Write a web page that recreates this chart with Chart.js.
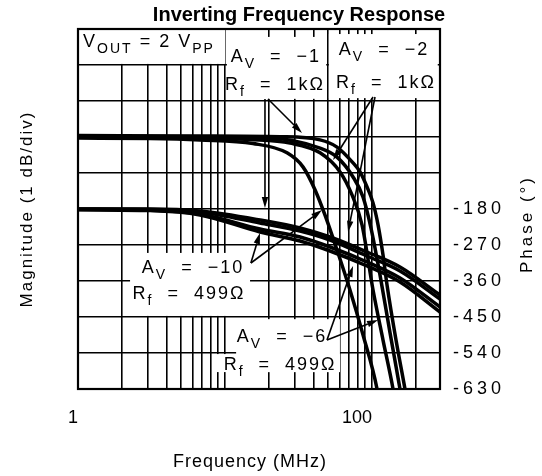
<!DOCTYPE html>
<html><head><meta charset="utf-8">
<script src="https://cdn.jsdelivr.net/npm/chart.js@4"></script>
<style>html,body{margin:0;padding:0;background:#fff}canvas{display:block}</style>
</head><body>
<canvas id="c" width="542" height="476"></canvas>
<script>
// ---------- data ----------
const xGridTicks = [1,2,3,4,5,6,7,8,9,10,20,30,40,50,60,70,80,90,100,200];
const xTickValues = [1, 100];
const xTickLabels = ['1', '100'];
const phaseTickValues = [-180,-270,-360,-450,-540,-630];
const phaseTickLabels = ['-180','-270','-360','-450','-540','-630'];

// magnitude curves (dB, normalized)
const mag1Freq = [1, 6.76, 23.7, 44.3, 57.8, 74.3, 82.9, 92.5, 101.6, 109.9, 118.8, 126.5, 145.6, 167.6, 187];
const mag1Db   = [0.04, 0.03, 0.01, -0.08, -0.28, -0.72, -0.97, -1.39, -1.83, -2.44, -3.28, -4.11, -5.64, -7.0, -8.14];
const mag2Freq = [1, 6.76, 20.2, 44.3, 57.8, 74.3, 86.9, 98.4, 113.3, 132.6, 155, 170.3];
const mag2Db   = [0.02, 0.0, -0.03, -0.31, -0.56, -1.11, -1.67, -2.53, -3.83, -5.44, -7.0, -8.0];
const mag3Freq = [1, 6.76, 14.8, 27.7, 44.3, 60.6, 73.1, 85.5, 101.6, 118.8, 139, 150.3];
const mag3Db   = [0.0, -0.02, -0.07, -0.17, -0.44, -0.97, -1.61, -2.44, -4.25, -5.64, -7.0, -7.86];
const mag4Freq = [1, 3.09, 6.76, 15.5, 26.4, 33.9, 41, 47.9, 57.8, 70.8, 86.9, 108.2, 117];
const mag4Db   = [-0.03, -0.04, -0.08, -0.18, -0.44, -0.83, -1.47, -2.17, -3.14, -4.25, -5.5, -7.0, -7.86];

// phase curves (degrees)
const phaseFreq = [1, 3.09, 6.76, 17.3, 32.4, 51.8, 92.5, 155, 290];
const phase1 = [-180, -180, -185, -207.5, -227.5, -250, -287.5, -325, -395];
const phase2 = [-180, -181, -187.5, -215, -235, -257.5, -297.5, -335, -405];
const phase3 = [-181, -183, -192.5, -230, -250, -275, -312.5, -352.5, -425];
const phase4 = [-182, -184, -195, -237.5, -260, -285, -322.5, -362.5, -437.5];

// annotations (frequency MHz, magnitude-axis dB)
const noteTexts = ['V_{OUT} = 2 V_{PP}', 'A_{V}  =  −1', 'R_{f}  =  1kΩ', 'A_{V}  =  −2', 'R_{f}  =  1kΩ',
                   'A_{V}  =  −10', 'R_{f}  =  499Ω', 'A_{V}  =  −6', 'R_{f}  =  499Ω'];
const noteFreq = [3.04, 22.2, 21.9, 120.7, 124.5, 6.06, 5.69, 24.4, 23.7];
const noteDb   = [2.667, 2.25, 1.472, 2.444, 1.528, -3.611, -4.333, -5.528, -6.306];

// white label boxes
const boxF0 = [1, 10.3, 50.9, 2.26, 11.9, 8.7];
const boxF1 = [10, 48.8, 280, 14.8, 60.5, 60.5];
const boxD0 = [3, 2.78, 2.86, -3.22, -5.06, -6.03];
const boxD1 = [2.03, 1.06, 1.08, -4.97, -6.53, -6.53];

// arrows
const arrFromF = [19.6, 18.7, 101.6, 104.8, 15.0, 15.0, 49.4, 49.4];
const arrFromD = [1.056, 1.056, 1.111, 1.111, -3.5, -3.5, -5.639, -5.639];
const arrToF   = [33.4, 18.7, 54.3, 68.7, 17.3, 45.7, 109.9, 74.3];
const arrToD   = [0.111, -1.972, -0.639, -2.639, -2.667, -2.028, -5.083, -3.583];

// ---------- chart ----------
const FONT = '"Liberation Sans", Arial, sans-serif';
const pts = (xs, ys) => xs.map((x, i) => ({x, y: ys[i]}));
const lineDs = (xs, ys, axis) => ({
  data: pts(xs, ys), yAxisID: axis, borderColor: '#000', borderWidth: 3.5,
  pointRadius: 0, fill: false, cubicInterpolationMode: 'monotone'
});

function drawRich(ctx, text, cx, cy, size, spacing) {
  const segs = [];
  const re = /_\{([^}]*)\}/g; let last = 0, m;
  while ((m = re.exec(text))) {
    if (m.index > last) segs.push({t: text.slice(last, m.index), sub: false});
    segs.push({t: m[1], sub: true}); last = re.lastIndex;
  }
  if (last < text.length) segs.push({t: text.slice(last), sub: false});
  ctx.save();
  ctx.letterSpacing = spacing + 'px';
  let w = 0;
  segs.forEach(s => { ctx.font = (s.sub ? size * 0.78 : size) + 'px ' + FONT; s.w = ctx.measureText(s.t).width; w += s.w; });
  let x = cx - w / 2;
  const base = cy + size * 0.36;
  ctx.fillStyle = '#000'; ctx.textBaseline = 'alphabetic'; ctx.textAlign = 'left';
  segs.forEach(s => {
    ctx.font = (s.sub ? size * 0.78 : size) + 'px ' + FONT;
    ctx.fillText(s.t, x, s.sub ? base + size * 0.3 : base);
    x += s.w;
  });
  ctx.restore();
}

const decor = {
  id: 'decor',
  afterLayout(chart) {
    const s = chart.scales.y2;
    if (!s._patched) {
      const orig = s.drawLabels;
      s.drawLabels = function (a) { const c = this.ctx; c.save(); c.letterSpacing = '4px'; orig.call(this, a); c.restore(); };
      s._patched = true;
    }
  },
  beforeDatasetsDraw(chart) {
    const {ctx, scales: {x, y}} = chart;
    ctx.save(); ctx.fillStyle = '#fff';
    for (let i = 0; i < boxF0.length; i++) {
      const x0 = x.getPixelForValue(boxF0[i]), x1 = x.getPixelForValue(boxF1[i]);
      const y0 = y.getPixelForValue(boxD0[i]), y1 = y.getPixelForValue(boxD1[i]);
      ctx.fillRect(x0, y0, x1 - x0, y1 - y0);
    }
    ctx.restore();
  },
  afterDatasetsDraw(chart) {
    const {ctx, chartArea: a, scales: {x, y}} = chart;
    ctx.save();
    ctx.strokeStyle = '#000'; ctx.lineWidth = 2.2;
    ctx.strokeRect(a.left, a.top, a.right - a.left, a.bottom - a.top);
    // arrows
    ctx.lineWidth = 1.6; ctx.fillStyle = '#000';
    for (let i = 0; i < arrFromF.length; i++) {
      const x0 = x.getPixelForValue(arrFromF[i]), y0 = y.getPixelForValue(arrFromD[i]);
      const x1 = x.getPixelForValue(arrToF[i]), y1 = y.getPixelForValue(arrToD[i]);
      const ang = Math.atan2(y1 - y0, x1 - x0), L = 11, H = 3.2;
      const bx = x1 - L * Math.cos(ang), by = y1 - L * Math.sin(ang);
      ctx.beginPath(); ctx.moveTo(x0, y0); ctx.lineTo(bx, by); ctx.stroke();
      ctx.beginPath(); ctx.moveTo(x1, y1);
      ctx.lineTo(bx + H * Math.sin(ang), by - H * Math.cos(ang));
      ctx.lineTo(bx - H * Math.sin(ang), by + H * Math.cos(ang));
      ctx.closePath(); ctx.fill();
    }
    for (let i = 0; i < noteTexts.length; i++) {
      drawRich(ctx, noteTexts[i], x.getPixelForValue(noteFreq[i]), y.getPixelForValue(noteDb[i]), 18, 2);
    }
    ctx.restore();
  },
  afterDraw(chart) {
    const {ctx, chartArea: a} = chart;
    ctx.save();
    ctx.fillStyle = '#000';
    ctx.font = 'bold 20px ' + FONT; ctx.textAlign = 'center'; ctx.textBaseline = 'alphabetic';
    ctx.fillText('Inverting Frequency Response', a.right - 141, a.top - 8);
    ctx.letterSpacing = '1px';
    ctx.font = '18px ' + FONT; ctx.textBaseline = 'middle';
    ctx.fillText('Frequency (MHz)', (a.left + a.right) / 2 - 9, a.bottom + 73);
    ctx.letterSpacing = '2px';
    ctx.font = '17px ' + FONT;
    ctx.save(); ctx.translate(a.left - 51, (a.top + a.bottom) / 2); ctx.rotate(-Math.PI / 2);
    ctx.fillText('Magnitude (1 dB/div)', 0, 0); ctx.restore();
    ctx.letterSpacing = '3px';
    ctx.save(); ctx.translate(a.right + 87, (a.top + a.bottom) / 2 + 15); ctx.rotate(-Math.PI / 2);
    ctx.fillText('Phase (°)', 0, 0); ctx.restore();
    ctx.restore();
  }
};

const gridOpts = {color: '#000', lineWidth: 1.6, drawTicks: false};

new Chart(document.getElementById('c'), {
  type: 'line',
  data: {
    datasets: [
      lineDs(mag1Freq, mag1Db, 'y'), lineDs(mag2Freq, mag2Db, 'y'),
      lineDs(mag3Freq, mag3Db, 'y'), lineDs(mag4Freq, mag4Db, 'y'),
      lineDs(phaseFreq, phase1, 'y2'), lineDs(phaseFreq, phase2, 'y2'),
      lineDs(phaseFreq, phase3, 'y2'), lineDs(phaseFreq, phase4, 'y2')
    ]
  },
  options: {
    responsive: false, animation: false, devicePixelRatio: 1,
    layout: {padding: {top: 29, left: 0, right: 0, bottom: 0}},
    plugins: {legend: {display: false}, title: {display: false}, tooltip: {enabled: false}},
    scales: {
      x: {
        type: 'logarithmic', min: 1, max: 290, position: 'bottom',
        grid: gridOpts, border: {display: false},
        afterBuildTicks: s => { s.ticks = xGridTicks.map(v => ({value: v})); },
        afterFit: s => { s.height = 87; },
        ticks: {
          autoSkip: false, maxRotation: 0, align: 'end', padding: 18, color: '#000',
          font: {family: FONT, size: 18},
          callback: v => { const i = xTickValues.indexOf(v); return i >= 0 ? xTickLabels[i] : ''; }
        }
      },
      y: {
        type: 'linear', min: -7, max: 3, position: 'left',
        grid: gridOpts, border: {display: false},
        afterFit: s => { s.width = 78; },
        ticks: {stepSize: 1, display: false}
      },
      y2: {
        type: 'linear', min: -630, max: 270, position: 'right',
        grid: {display: false, drawTicks: false}, border: {display: false},
        afterFit: s => { s.width = 102; },
        ticks: {
          stepSize: 90, padding: 13, color: '#000', font: {family: FONT, size: 18},
          callback: v => { const i = phaseTickValues.indexOf(v); return i >= 0 ? phaseTickLabels[i] : ''; }
        }
      }
    }
  },
  plugins: [decor]
});
</script>
</body></html>
